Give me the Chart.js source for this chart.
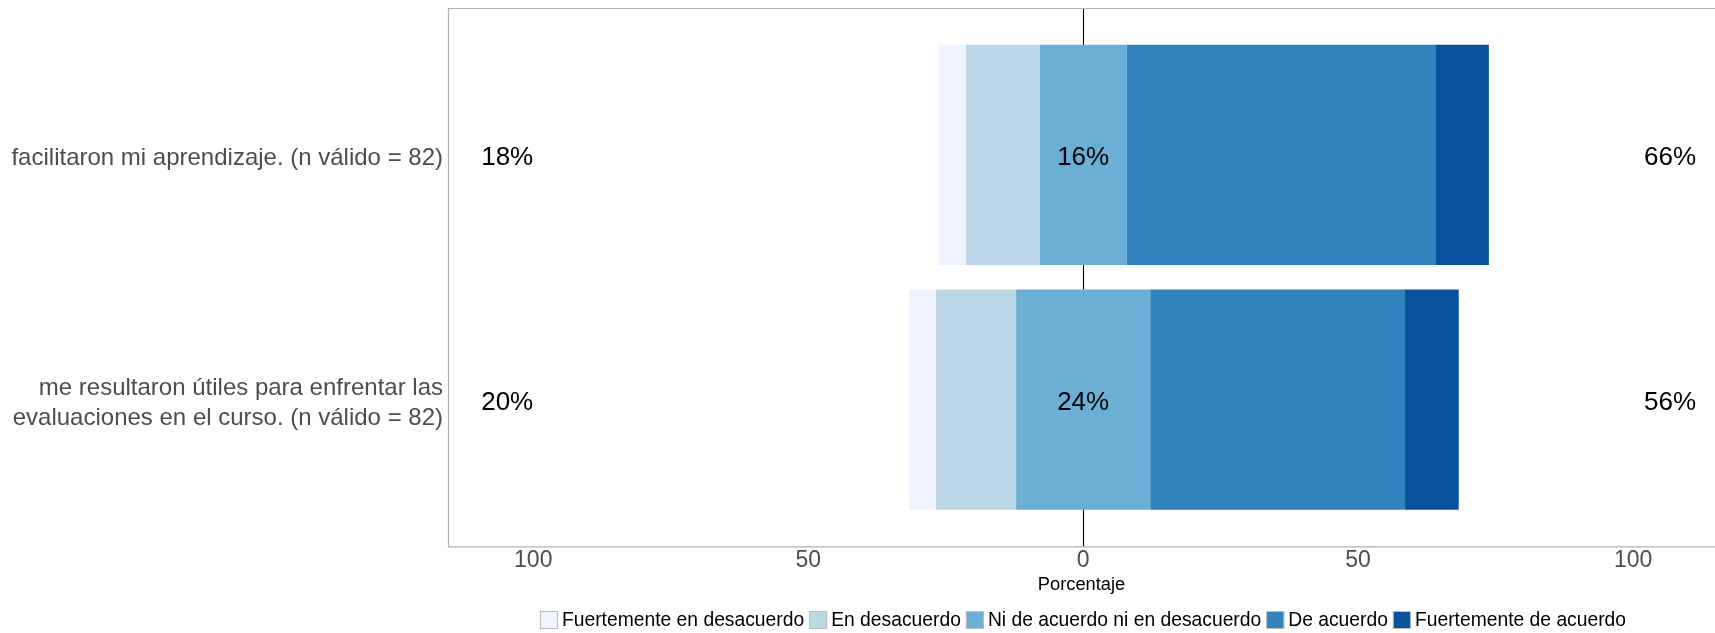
<!DOCTYPE html>
<html>
<head>
<meta charset="utf-8">
<script src="https://cdn.jsdelivr.net/npm/chart.js@4.4.1/dist/chart.umd.min.js"></script>
<style>
  html, body { margin: 0; padding: 0; background: #ffffff; overflow: hidden; }
  #wrap { width: 1715px; height: 633px; }
</style>
</head>
<body>
<div id="wrap"><canvas id="c" width="1715" height="633"></canvas></div>
<script>
// ---- data (percentages, n válido = 82) ----
const items = [
  ["facilitaron mi aprendizaje. (n válido = 82)"],
  ["me resultaron útiles para enfrentar las", "evaluaciones en el curso. (n válido = 82)"]
];
const levels = [
  "Fuertemente en desacuerdo",
  "En desacuerdo",
  "Ni de acuerdo ni en desacuerdo",
  "De acuerdo",
  "Fuertemente de acuerdo"
];
const fuertementeEnDesacuerdo = [4.88, 4.88];
const enDesacuerdo           = [13.41, 14.63];
const neutral                = [15.85, 24.39];
const deAcuerdo              = [56.10, 46.34];
const fuertementeDeAcuerdo   = [9.76, 9.76];
const xTickValues = [-100, -50, 0, 50, 100];
const colors = ["#EFF3FF", "#BDD7E7", "#6BAED6", "#3182BD", "#08519C"];

// ---- build floating ranges ----
function ranges(i) {
  const a = fuertementeEnDesacuerdo[i], b = enDesacuerdo[i], c = neutral[i], d = deAcuerdo[i], e = fuertementeDeAcuerdo[i];
  const h = c / 2;
  return [
    [-(a + b + h), -(b + h)],
    [-(b + h), -h],
    [-h, h],
    [h, h + d],
    [h + d, h + d + e]
  ];
}
const datasets = levels.map((lv, k) => ({
  label: lv,
  data: items.map((_, i) => ({ y: i + 1, x: ranges(i)[k] })),
  backgroundColor: colors[k],
  borderWidth: 0,
  grouped: false,
  categoryPercentage: 1.0,
  barPercentage: 0.9
}));

const FONT = "'Liberation Sans', Arial, Helvetica, sans-serif";

const decor = {
  id: 'decor',
  beforeDatasetsDraw(chart) {
    const { ctx, chartArea: a, scales: { x } } = chart;
    ctx.save();
    const x0 = Math.round(x.getPixelForValue(0)) + 0.5;
    ctx.strokeStyle = '#000000';
    ctx.lineWidth = 1.1;
    ctx.beginPath();
    ctx.moveTo(x0, a.top);
    ctx.lineTo(x0, a.bottom);
    ctx.stroke();
    ctx.restore();
  },
  afterDatasetsDraw(chart) {
    const { ctx, chartArea: a, scales: { x, y } } = chart;
    ctx.save();
    // panel border (left, top, bottom)
    ctx.strokeStyle = '#b3b3b3';
    ctx.lineWidth = 1.2;
    ctx.beginPath();
    ctx.moveTo(a.right + 2, a.top + 0.5);
    ctx.lineTo(a.left + 0.5, a.top + 0.5);
    ctx.lineTo(a.left + 0.5, a.bottom + 0.5);
    ctx.lineTo(a.right + 2, a.bottom + 0.5);
    ctx.stroke();

    // percentage labels
    ctx.fillStyle = '#000000';
    ctx.font = '26px ' + FONT;
    ctx.textBaseline = 'middle';
    items.forEach((_, i) => {
      const low = Math.round(fuertementeEnDesacuerdo[i] + enDesacuerdo[i]);
      const mid = Math.round(neutral[i]);
      const high = Math.round(deAcuerdo[i] + fuertementeDeAcuerdo[i]);
      const yc = y.getPixelForValue(i + 1) + 3;
      ctx.textAlign = 'right';
      ctx.fillText(low + '%', x.getPixelForValue(-100), yc);
      ctx.textAlign = 'center';
      ctx.fillText(mid + '%', x.getPixelForValue(0), yc);
      ctx.textAlign = 'left';
      ctx.fillText(high + '%', x.getPixelForValue(102), yc);
    });
    ctx.restore();
  },
  afterDraw(chart) {
    const { ctx, chartArea: a } = chart;
    ctx.save();
    ctx.font = '19.3px ' + FONT;
    ctx.textBaseline = 'middle';
    ctx.textAlign = 'left';
    const box = 18, g1 = 4, g2 = 5;
    const widths = levels.map(t => ctx.measureText(t).width);
    let total = widths.reduce((s, w) => s + box + g1 + w, 0) + g2 * (levels.length - 1);
    let cx = (a.left + a.right) / 2 - total / 2 + 1.5;
    const cy = 620;
    levels.forEach((t, k) => {
      ctx.fillStyle = colors[k];
      ctx.fillRect(cx, cy - box / 2, box, box);
      ctx.strokeStyle = '#bdbdbd';
      ctx.lineWidth = 1;
      ctx.strokeRect(cx + 0.5, cy - box / 2 + 0.5, box - 1, box - 1);
      ctx.fillStyle = '#000000';
      ctx.fillText(t, cx + box + g1, cy + 1);
      cx += box + g1 + widths[k] + g2;
    });
    ctx.restore();
  }
};

new Chart(document.getElementById('c'), {
  type: 'bar',
  data: { datasets },
  options: {
    indexAxis: 'y',
    responsive: false,
    animation: false,
    devicePixelRatio: 1,
    layout: { padding: { top: 8, bottom: 37, left: 0, right: 0 } },
    plugins: { legend: { display: false }, tooltip: { enabled: false } },
    scales: {
      x: {
        type: 'linear',
        min: -115.5,
        max: 114.9,
        offset: false,
        grid: { display: false, drawTicks: false },
        border: { display: false },
        afterBuildTicks(s) { s.ticks = xTickValues.map(v => ({ value: v })); },
        afterFit(s) { s.paddingLeft = 0; s.paddingRight = 0; },
        ticks: {
          padding: 0,
          color: '#4d4d4d',
          font: { family: FONT, size: 23 },
          callback: v => String(Math.abs(v)),
          maxRotation: 0
        },
        title: {
          display: true,
          text: 'Porcentaje',
          color: '#000000',
          font: { family: FONT, size: 18.3 },
          padding: { top: 0, bottom: 0 }
        }
      },
      y: {
        type: 'linear',
        min: 0.4,
        max: 2.6,
        reverse: true,
        offset: false,
        grid: { display: false, drawTicks: false },
        border: { display: false },
        afterBuildTicks(s) { s.ticks = items.map((_, i) => ({ value: i + 1 })); },
        afterFit(s) { s.width = 448; s.paddingTop = 0; s.paddingBottom = 0; },
        ticks: {
          padding: 5,
          labelOffset: 3.5,
          color: '#4d4d4d',
          font: { family: FONT, size: 24, lineHeight: 1.25 },
          callback: v => items[Math.round(v) - 1]
        }
      }
    }
  },
  plugins: [decor]
});
</script>
</body>
</html>
